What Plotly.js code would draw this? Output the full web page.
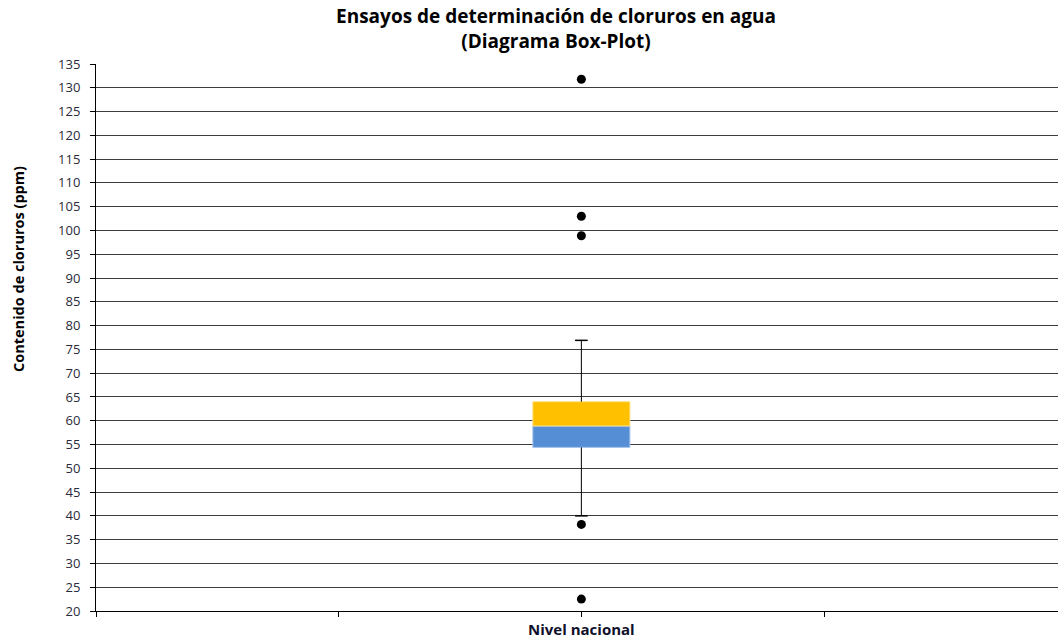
<!DOCTYPE html>
<html>
<head>
<meta charset="utf-8">
<script src="https://cdn.plot.ly/plotly-3.0.1.min.js"></script>
<style>html,body{margin:0;padding:0;background:#fff;}#chart{width:1058px;height:641px;}</style>
</head>
<body>
<div id="chart"></div>
<script>
// Data
const categories = ["Nivel nacional"];
const categoryPosition = [2];          // category slot on the axis (slots 0..3)
const q1 = [54.4];
const median = [58.9];
const q3 = [64.0];
const whiskerLow = [40.0];
const whiskerHigh = [76.9];
const outliers = [131.8, 103.0, 98.9, 38.2, 22.5];

const axisTickVals = [0, 1, 2, 3];
const axisTickText = ["", "", categories[0], ""];
const yAxisTitle = "Contenido de cloruros (ppm)";

const x0 = categoryPosition[0];

const traces = [
  // upper whisker
  {type: "scatter", mode: "lines", x: [x0, x0], y: [q3[0], whiskerHigh[0]],
   line: {color: "#000000", width: 1}, hoverinfo: "skip", showlegend: false},
  // lower whisker
  {type: "scatter", mode: "lines", x: [x0, x0], y: [whiskerLow[0], q1[0]],
   line: {color: "#000000", width: 1}, hoverinfo: "skip", showlegend: false},
  // whisker caps
  {type: "scatter", mode: "markers", x: [x0, x0], y: [whiskerLow[0], whiskerHigh[0]],
   marker: {symbol: "line-ew", size: 9, line: {color: "#000000", width: 1.5}},
   hoverinfo: "skip", showlegend: false},
  // Q1 -> median (blue)
  {type: "bar", x: categoryPosition, y: [median[0] - q1[0]], base: q1,
   width: 0.4, marker: {color: "#558ED5", line: {color: "#A9C4EB", width: 1}},
   showlegend: false},
  // median -> Q3 (yellow)
  {type: "bar", x: categoryPosition, y: [q3[0] - median[0]], base: median,
   width: 0.4, marker: {color: "#FFC000", line: {color: "#FFE08A", width: 1}},
   showlegend: false},
  // outliers
  {type: "scatter", mode: "markers", x: outliers.map(() => x0), y: outliers,
   marker: {symbol: "circle", size: 9, color: "#000000"}, showlegend: false}
];

const layout = {
  width: 1058, height: 641,
  margin: {l: 96, r: 0, t: 64, b: 30},
  paper_bgcolor: "#ffffff", plot_bgcolor: "#ffffff",
  barmode: "overlay",
  font: {family: "Open Sans, sans-serif", color: "#000"},
  title: {
    text: "Ensayos de determinación de cloruros en agua<br>(Diagrama Box-Plot)",
    font: {family: "Open Sans, sans-serif", size: 19, color: "#000", weight: "bold"},
    x: 556/1058, xanchor: "center", xref: "container",
    y: 1 - 23/641, yanchor: "top", yref: "container"
  },
  xaxis: {
    range: [0, 3.964], tickvals: axisTickVals, ticktext: axisTickText,
    showgrid: false, zeroline: false, showline: true, linecolor: "#000", linewidth: 1,
    ticks: "outside", ticklen: 5, tickcolor: "#000", tickwidth: 1,
    tickfont: {family: "Open Sans, sans-serif", size: 15, color: "#10102a", weight: "bold"},
    ticklabelstandoff: 0,
    fixedrange: true
  },
  yaxis: {
    range: [20, 135], dtick: 5, tick0: 20,
    showgrid: true, gridcolor: "#3c3c3c", gridwidth: 1,
    zeroline: false, showline: true, linecolor: "#000", linewidth: 1,
    ticks: "outside", ticklen: 5, tickcolor: "#000",
    tickfont: {family: "Open Sans, sans-serif", size: 13, color: "#2a2a3a"},
    ticklabelstandoff: 7,
    fixedrange: true
  },
  annotations: [{
    text: yAxisTitle, textangle: -90, showarrow: false,
    xref: "paper", yref: "paper", x: -78/962, y: (611 - 269)/547,
    xanchor: "center", yanchor: "middle",
    font: {family: "Open Sans, sans-serif", size: 14.5, color: "#000", weight: "bold"}
  }]
};

Plotly.newPlot("chart", traces, layout, {displayModeBar: false, staticPlot: true});
</script>
</body>
</html>
